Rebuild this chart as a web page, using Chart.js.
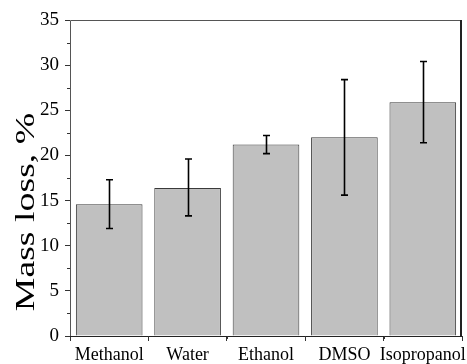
<!DOCTYPE html>
<html>
<head>
<meta charset="utf-8">
<script src="https://cdn.jsdelivr.net/npm/chart.js@4/dist/chart.umd.min.js"></script>
<style>
html,body{margin:0;padding:0;background:#fff;}
canvas{display:block;}
</style>
</head>
<body>
<canvas id="c" width="467" height="364"></canvas>
<script>
const categories = ['Methanol', 'Water', 'Ethanol', 'DMSO', 'Isopropanol'];
const massLoss = [14.6, 16.4, 21.2, 22.0, 25.9];
const errUpper = [17.3, 19.6, 22.2, 28.4, 30.4];
const errLower = [11.9, 13.3, 20.2, 15.6, 21.4];
const yMin = 0, yMax = 35, yStep = 5, yMinorStep = 2.5;
const yTitle = 'Mass loss, %';

const SERIF = '"Liberation Serif", "Times New Roman", serif';

const extras = {
  id: 'extras',
  afterDatasetsDraw(chart) {
    const ctx = chart.ctx, y = chart.scales.y;
    const meta = chart.getDatasetMeta(0);
    ctx.save();
    ctx.strokeStyle = '#000';
    ctx.lineWidth = 1.6;
    meta.data.forEach((bar, i) => {
      const x = Math.round(bar.x) + 0.5;
      const yt = y.getPixelForValue(errUpper[i]);
      const yb = y.getPixelForValue(errLower[i]);
      ctx.beginPath();
      ctx.moveTo(x, yt); ctx.lineTo(x, yb);
      ctx.moveTo(x - 3.5, yt); ctx.lineTo(x + 3.5, yt);
      ctx.moveTo(x - 3.5, yb); ctx.lineTo(x + 3.5, yb);
      ctx.stroke();
    });
    ctx.restore();
  },
  afterDraw(chart) {
    const ctx = chart.ctx, a = chart.chartArea, x = chart.scales.x, y = chart.scales.y;
    ctx.save();
    // frame
    ctx.strokeStyle = '#555';
    ctx.lineWidth = 1;
    ctx.beginPath();
    ctx.moveTo(a.left + 0.5, a.bottom); ctx.lineTo(a.left + 0.5, a.top + 0.5);
    ctx.lineTo(a.right, a.top + 0.5);
    ctx.stroke();
    ctx.strokeStyle = '#222';
    ctx.beginPath();
    ctx.moveTo(a.left, a.bottom + 0.5); ctx.lineTo(a.right, a.bottom + 0.5);
    ctx.stroke();
    ctx.lineWidth = 2;
    ctx.beginPath();
    ctx.moveTo(a.right - 1, a.top); ctx.lineTo(a.right - 1, a.bottom + 1);
    ctx.stroke();
    // minor y ticks
    ctx.lineWidth = 1;
    ctx.strokeStyle = '#333';
    ctx.beginPath();
    for (let v = yMin + yMinorStep; v < yMax; v += yStep) {
      const py = Math.round(y.getPixelForValue(v)) + 0.5;
      ctx.moveTo(a.left - 3, py); ctx.lineTo(a.left, py);
    }
    // minor x ticks at category boundaries
    const step = x.getPixelForValue(1) - x.getPixelForValue(0);
    for (let i = 1; i < categories.length; i++) {
      const px = Math.round(x.getPixelForValue(i) - step / 2) + 0.5;
      ctx.moveTo(px, a.bottom); ctx.lineTo(px, a.bottom + 3);
    }
    ctx.stroke();
    // y title (drawn slightly stretched along its length, like the reference)
    ctx.fillStyle = '#000';
    ctx.font = '27px ' + SERIF;
    ctx.textAlign = 'center';
    ctx.textBaseline = 'alphabetic';
    ctx.translate(34, (a.top + a.bottom) / 2 + 34);
    ctx.rotate(-Math.PI / 2);
    ctx.scale(1.4, 1);
    ctx.fillText(yTitle, 0, 0);
    ctx.restore();
  }
};

new Chart(document.getElementById('c'), {
  type: 'bar',
  data: {
    labels: categories,
    datasets: [{
      data: massLoss,
      backgroundColor: '#c0c0c0',
      borderColor: '#3a3a3a',
      borderWidth: 1,
      barPercentage: 0.85,
      categoryPercentage: 1.0
    }]
  },
  options: {
    responsive: false,
    animation: false,
    devicePixelRatio: 1,
    layout: { padding: { top: 20, right: 5, left: 0, bottom: 0 } },
    plugins: { legend: { display: false }, tooltip: { enabled: false } },
    scales: {
      x: {
        grid: { display: true, drawOnChartArea: false, drawTicks: true, tickLength: 5, color: '#333', tickColor: '#333' },
        border: { display: false },
        ticks: { color: '#000', font: { family: SERIF, size: 18 }, padding: 3, autoSkip: false, maxRotation: 0, minRotation: 0 },
        afterFit(s) { s.height = 28; s.paddingRight = 0; s.paddingLeft = 0; }
      },
      y: {
        min: yMin, max: yMax,
        grid: { display: true, drawOnChartArea: false, drawTicks: true, tickLength: 5, color: '#333', tickColor: '#333' },
        border: { display: false },
        ticks: { stepSize: yStep, color: '#000', font: { family: SERIF, size: 19 }, padding: 6 },
        afterFit(s) { s.width = 70; s.paddingTop = 0; s.paddingBottom = 0; }
      }
    }
  },
  plugins: [extras]
});
</script>
</body>
</html>
